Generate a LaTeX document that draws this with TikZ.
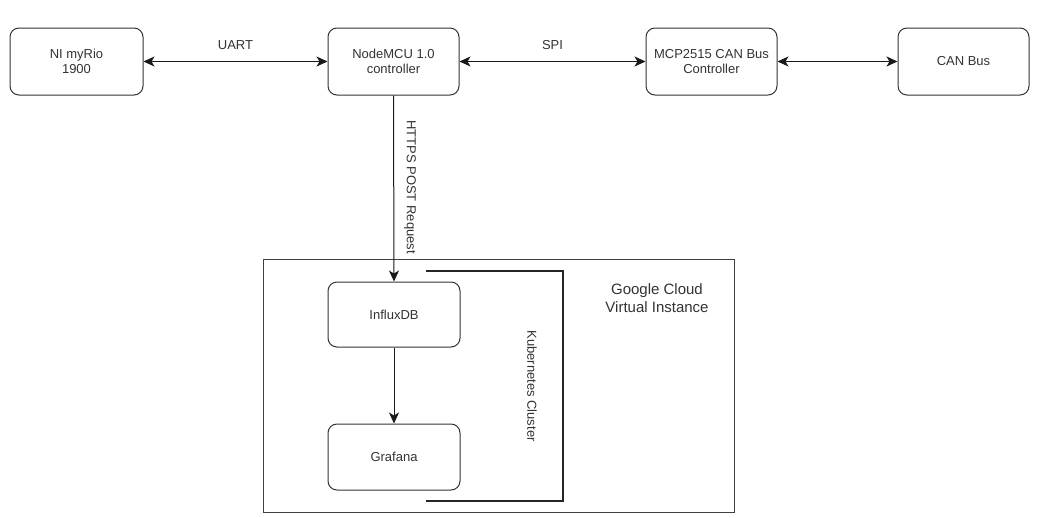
\documentclass[tikz,border=0pt]{standalone}
\usepackage{fontspec}
\setmainfont{Liberation Sans}
\usetikzlibrary{arrows.meta}
\begin{document}
\begin{tikzpicture}[x=1pt,y=-1pt,
  box/.style={draw=black!80, line width=1pt, rounded corners=9pt, align=center,
    text=black!80, font=\fontsize{13}{15}\selectfont, inner sep=0pt},
  conn/.style={line width=1pt, draw=black!90, -{Stealth[length=11pt,width=10pt,inset=3pt]}},
  biconn/.style={line width=1pt, draw=black!90, {Stealth[length=11pt,width=10pt,inset=3pt]}-{Stealth[length=11pt,width=10pt,inset=3pt]}},
  lbl/.style={text=black!80, font=\fontsize{13}{15}\selectfont, inner sep=0pt}]
\useasboundingbox (0,0) rectangle (1047,517);
\fill[white] (0,0) rectangle (1047,517);
\node[box, minimum width=133pt, minimum height=67pt] (nimy) at (76.5,61.5) {NI myRio\\1900};
\node[box, minimum width=131pt, minimum height=67pt] (mcu) at (393.5,61.5) {NodeMCU 1.0\\controller};
\node[box, minimum width=131pt, minimum height=67pt] (mcp) at (711.5,61.5) {MCP2515 CAN Bus\\Controller};
\node[box, minimum width=131pt, minimum height=67pt] (can) at (963.5,61.5) {CAN Bus};
\node[draw=black!75, line width=1pt, minimum width=471pt, minimum height=253pt, inner sep=0pt] (gc) at (498.5,385.5) {};
\node[box, minimum width=132pt, minimum height=65pt] (influx) at (394,314.5) {InfluxDB};
\node[box, minimum width=132pt, minimum height=66pt] (graf) at (394,457) {Grafana};
\node[lbl, align=center, font=\fontsize{15}{18}\selectfont] (gctext) at (657,298) {Google Cloud\\Virtual Instance};
\coordinate (k1) at (426,271);
\coordinate (k2) at (563,271);
\coordinate (k3) at (563,501);
\coordinate (k4) at (426,501);
\draw[line width=2.5pt, draw=black!85] (k1) -- (k2) -- (k3) -- (k4);
\node[lbl, rotate=-90] (kubl) at (532,386) {Kubernetes Cluster};
\draw[biconn] (nimy.east) -- node[lbl, above=11pt] (uart) {UART} (mcu.west);
\draw[biconn] (mcu.east) -- node[lbl, above=11pt] (spi) {SPI} (mcp.west);
\draw[biconn] (mcp.east) -- (can.west);
\draw[conn] (mcu.south) -- (influx.north);
\node[lbl, rotate=-90] (https) at (410,187) {HTTPS POST Request};
\draw[conn] (influx.south) -- (graf.north);
\end{tikzpicture}
\end{document}
